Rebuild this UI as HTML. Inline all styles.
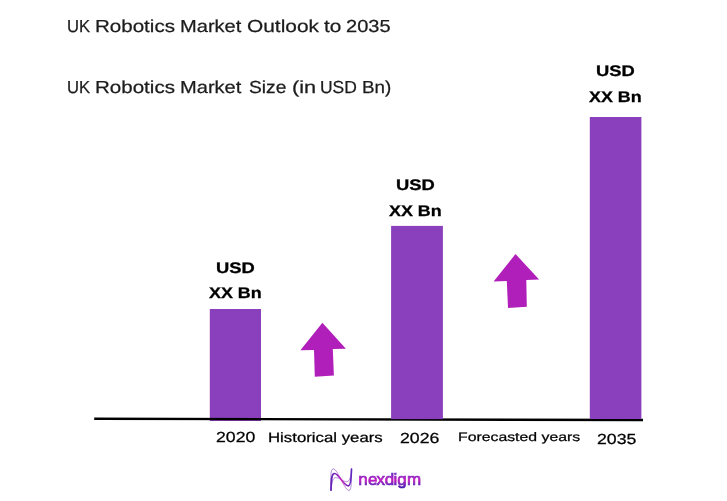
<!DOCTYPE html>
<html><head><meta charset="utf-8">
<style>
html,body{margin:0;padding:0;background:#fff;}
body{width:727px;height:501px;position:relative;overflow:hidden;font-family:"Liberation Sans",sans-serif;}
.t{text-rendering:geometricPrecision;position:absolute;white-space:nowrap;line-height:1;transform-origin:0 0;color:#111;}
.title{font-size:17.4px;color:#1c1c1c;-webkit-text-stroke:0.25px #1c1c1c;}
.lab{text-rendering:geometricPrecision;font-size:15.3px;font-weight:bold;color:#000;-webkit-text-stroke:0.3px #000;}
.ax{font-size:14px;color:#000;-webkit-text-stroke:0.25px #000;}
.bar{position:absolute;background:#8A3FBC;}
</style></head><body>
<div class="t title" id="w1_0" style="left:66.85px;top:18px;transform:scaleX(0.9574);">UK</div>
<div class="t title" id="w1_1" style="left:94.75px;top:18px;transform:scaleX(1.1813);">Robotics</div>
<div class="t title" id="w1_2" style="left:179.57px;top:18px;transform:scaleX(1.1539);">Market</div>
<div class="t title" id="w1_3" style="left:246.85px;top:18px;transform:scaleX(1.2005);">Outlook</div>
<div class="t title" id="w1_4" style="left:323.80px;top:18px;transform:scaleX(1.1914);">to</div>
<div class="t title" id="w1_5" style="left:345.62px;top:18px;transform:scaleX(1.1516);">2035</div>
<div class="t title" id="w2_0" style="left:66.85px;top:78.5px;transform:scaleX(0.9574);">UK</div>
<div class="t title" id="w2_1" style="left:94.75px;top:78.5px;transform:scaleX(1.1813);">Robotics</div>
<div class="t title" id="w2_2" style="left:179.57px;top:78.5px;transform:scaleX(1.1539);">Market</div>
<div class="t title" id="w2_3" style="left:249.10px;top:78.5px;transform:scaleX(1.1064);">Size</div>
<div class="t title" id="w2_4" style="left:291.61px;top:78.5px;transform:scaleX(1.2459);">(in</div>
<div class="t title" id="w2_5" style="left:320.20px;top:78.5px;transform:scaleX(1.0048);">USD</div>
<div class="t title" id="w2_6" style="left:362.30px;top:78.5px;transform:scaleX(1.0832);">Bn)</div>

<svg style="position:absolute;left:0;top:0" width="727" height="501" viewBox="0 0 727 501">
<rect x="209.8" y="309" width="51.2" height="112" fill="#8A3FBC"/>
<line x1="94.2" y1="418.8" x2="643" y2="420.05" stroke="#000" stroke-width="2.4"/>
<rect x="391.1" y="225.9" width="51.8" height="193.2" fill="#8A3FBC"/>
<rect x="589.8" y="117" width="51.6" height="302" fill="#8A3FBC"/>
</svg>

<div class="t lab" id="u1" style="left:216px;top:261.25px;transform:scaleX(1.2);">USD</div>
<div class="t lab" id="x1" style="left:209px;top:285.7px;transform:scaleX(1.171);">XX Bn</div>
<div class="t lab" id="u2" style="left:396px;top:178.05px;transform:scaleX(1.2);">USD</div>
<div class="t lab" id="x2" style="left:389px;top:204px;transform:scaleX(1.171);">XX Bn</div>
<div class="t lab" id="u3" style="left:596px;top:63.95px;transform:scaleX(1.2);">USD</div>
<div class="t lab" id="x3" style="left:589px;top:89.85px;transform:scaleX(1.171);">XX Bn</div>

<div class="t ax" id="a1" style="left:215.5px;top:431px;font-size:14.6px;transform:scaleX(1.213);">2020</div>
<div class="t ax" id="a2" style="left:268px;top:430.8px;font-size:13.6px;transform:scaleX(1.235);">Historical years</div>
<div class="t ax" id="a3" style="left:399.8px;top:432.3px;font-size:14.6px;transform:scaleX(1.213);">2026</div>
<div class="t ax" id="a4" style="left:458px;top:431.2px;font-size:12.3px;transform:scaleX(1.286);">Forecasted years</div>
<div class="t ax" id="a5" style="left:596.5px;top:433.3px;font-size:14.6px;transform:scaleX(1.213);">2035</div>

<svg style="position:absolute;left:0;top:0" width="727" height="501" viewBox="0 0 727 501">
<polygon fill="#B11FBA" points="322.4,322.8 345.9,348.7 332.8,349 333.9,375.5 314.8,376.8 314,349.9 300.4,350.3"/>
<polygon fill="#B11FBA" points="515.5,254.1 539.1,279.5 526.3,279.9 526.8,306.8 508,307.9 506.8,281.1 493.6,281.5"/>
<defs>
<linearGradient id="g1" gradientUnits="userSpaceOnUse" x1="330" y1="0" x2="353" y2="0"><stop offset="0" stop-color="#5F22B4"/><stop offset="0.22" stop-color="#7426B8"/><stop offset="0.5" stop-color="#C02CC0"/><stop offset="0.78" stop-color="#7A22B4"/><stop offset="1" stop-color="#5A2CC4"/></linearGradient>
<linearGradient id="g2" gradientUnits="userSpaceOnUse" x1="0" y1="471" x2="0" y2="489"><stop offset="0" stop-color="#5A2CC8"/><stop offset="0.25" stop-color="#8428C4"/><stop offset="0.5" stop-color="#C41EC0"/><stop offset="0.76" stop-color="#6A22BC"/><stop offset="1" stop-color="#4018B0"/></linearGradient>
<filter id="bl" x="-20%" y="-20%" width="140%" height="140%"><feGaussianBlur stdDeviation="0.35"/></filter>
</defs>
<g fill="none" stroke="url(#g1)" stroke-linecap="round" filter="url(#bl)">
<path d="M331,490.2 C331.2,480 331.5,473.5 334.5,473.5 C339,473.5 343.5,485.8 348.4,485.8 C351,485.8 351.3,476 351.5,469.1" stroke-width="1.7"/>
<path d="M331,490.2 C330.6,478 330.5,468.8 333.2,468.8 C338,468.8 344,490.5 349.1,490.5 C351.8,490.5 351.5,478 351.5,469.1" stroke-width="0.7" opacity="0.75"/>
<path d="M331,490.2 C331.8,483 332.5,477.6 335.9,477.6 C339.5,477.6 343,481.7 346.7,481.7 C350,481.7 351.2,475 351.5,469.1" stroke-width="0.7" opacity="0.75"/>
</g>
<text x="358.25 367.95 376.55 384.65 393.55 397.25 406.9" y="484.7" font-family="Liberation Sans, sans-serif" font-size="17" fill="url(#g2)" stroke="url(#g2)" stroke-width="0.7" filter="url(#bl)">nexdigm</text>
</svg>
</body></html>
